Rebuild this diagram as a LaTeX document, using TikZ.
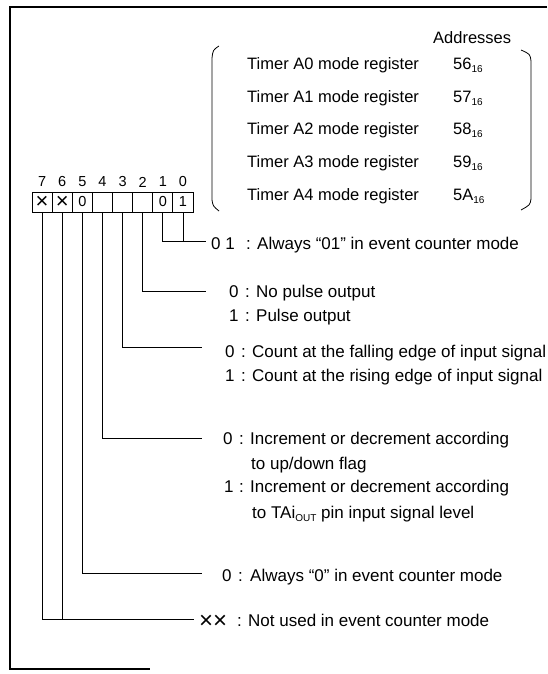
\documentclass[tikz,border=0pt]{standalone}
\usepackage{fontspec}
\setmainfont{Liberation Sans}
\begin{document}
\begin{tikzpicture}[x=1pt,y=-1pt,
  lbl/.style={anchor=base west,inner sep=0pt,font=\fontsize{17}{19}\selectfont},
  reg/.style={anchor=base west,inner sep=0pt,font=\fontsize{16.5}{18}\selectfont},
  cell/.style={draw,line width=0.8pt,minimum width=20.125pt,minimum height=20pt,inner sep=0pt,font=\fontsize{14.5}{14.5}\selectfont},
  bitno/.style={inner sep=0pt,font=\fontsize{14.5}{14.5}\selectfont},
  lead/.style={line width=0.8pt},
  frameline/.style={line width=2pt},
  brk/.style={line width=0.8pt}]
\useasboundingbox (0,0) rectangle (547,674);
% frame
\draw[frameline] (547,7) -- (10,7) -- (10,669) -- (150,669);

% register cells
\node[cell] (c7) at (42.06,202) {\fontsize{22}{22}\selectfont ×};
\node[cell] (c6) at (62.19,202) {\fontsize{22}{22}\selectfont ×};
\node[cell] (c5) at (82.31,202) {0};
\node[cell] (c4) at (102.44,202) {};
\node[cell] (c3) at (122.56,202) {};
\node[cell] (c2) at (142.69,202) {};
\node[cell] (c1) at (162.81,202) {0};
\node[cell] (c0) at (182.94,202) {1};
% bit numbers
\node[bitno] (n7) at (42.06,182) {7};
\node[bitno] (n6) at (62.19,182) {6};
\node[bitno] (n5) at (82.31,182) {5};
\node[bitno] (n4) at (102.44,182) {4};
\node[bitno] (n3) at (122.56,182) {3};
\node[bitno] (n2) at (142.69,182) {2};
\node[bitno] (n1) at (162.81,182) {1};
\node[bitno] (n0) at (182.94,182) {0};

% address table
\node[reg] (addr) at (433,43.5) {Addresses};
\node[reg] (t0) at (247,70) {Timer A0 mode register};
\node[reg] (t1) at (247,102.5) {Timer A1 mode register};
\node[reg] (t2) at (247,135) {Timer A2 mode register};
\node[reg] (t3) at (247,167.5) {Timer A3 mode register};
\node[reg] (t4) at (247,200) {Timer A4 mode register};
\node[reg] (a0) at (453,70) {56\raisebox{-3pt}{\fontsize{10}{10}\selectfont 16}};
\node[reg] (a1) at (453,102.5) {57\raisebox{-3pt}{\fontsize{10}{10}\selectfont 16}};
\node[reg] (a2) at (453,135) {58\raisebox{-3pt}{\fontsize{10}{10}\selectfont 16}};
\node[reg] (a3) at (453,167.5) {59\raisebox{-3pt}{\fontsize{10}{10}\selectfont 16}};
\node[reg] (a4) at (453,200) {5A\raisebox{-3pt}{\fontsize{10}{10}\selectfont 16}};
% brackets
\draw[brk] (219,46) .. controls (213,50) .. (212,58) -- (212,200) .. controls (213,206) .. (219,211);
\draw[brk] (521,50) .. controls (530,54) .. (531,61) -- (531,199) .. controls (530,205) .. (521,210);

% labels
\node[lbl] (d10) at (211,249) {0 1};
\node[lbl] (k10) at (246,249) {:};
\node[lbl] (x10) at (257,249) {Always “01” in event counter mode};

\node[lbl] (d2a) at (229,297) {0};
\node[lbl] (k2a) at (245,297) {:};
\node[lbl] (x2a) at (256,297) {No pulse output};
\node[lbl] (d2b) at (229,321) {1};
\node[lbl] (k2b) at (245,321) {:};
\node[lbl] (x2b) at (256,321) {Pulse output};

\node[lbl] (d3a) at (225,357) {0};
\node[lbl] (k3a) at (241,357) {:};
\node[lbl] (x3a) at (252,357) {Count at the falling edge of input signal};
\node[lbl] (d3b) at (225,381) {1};
\node[lbl] (k3b) at (241,381) {:};
\node[lbl] (x3b) at (252,381) {Count at the rising edge of input signal};

\node[lbl] (d4a) at (223,444) {0};
\node[lbl] (k4a) at (239,444) {:};
\node[lbl] (x4a) at (250,444) {Increment or decrement according};
\node[lbl] (y4a) at (251,469) {to up/down flag};
\node[lbl] (d4b) at (224,492) {1};
\node[lbl] (k4b) at (239,492) {:};
\node[lbl] (x4b) at (250,492) {Increment or decrement according};
\node[lbl] (y4b) at (252,518) {to TAi\raisebox{-3pt}{\fontsize{10}{10}\selectfont OUT} pin input signal level};

\node[lbl] (d5) at (222,581) {0};
\node[lbl] (k5) at (238,581) {:};
\node[lbl] (x5) at (250,581) {Always “0” in event counter mode};

\node[anchor=west,inner sep=0pt,font=\fontsize{24}{24}\selectfont] (d76) at (199,621.5) {××};
\node[lbl] (k76) at (237,626) {:};
\node[lbl] (x76) at (248,626) {Not used in event counter mode};

% leader lines
\coordinate (e10) at (206,241);
\coordinate (e2) at (206,291);
\coordinate (e3) at (202,347);
\coordinate (e4) at (202,438);
\coordinate (e5) at (202,573);
\coordinate (e76) at (194,619);
\draw[lead] (c1.south) |- (e10);
\draw[lead] (c0.south) -- (c0.south |- e10);
\draw[lead] (c2.south) |- (e2);
\draw[lead] (c3.south) |- (e3);
\draw[lead] (c4.south) |- (e4);
\draw[lead] (c5.south) |- (e5);
\draw[lead] (c7.south) |- (e76);
\draw[lead] (c6.south) -- (c6.south |- e76);
\end{tikzpicture}
\end{document}
